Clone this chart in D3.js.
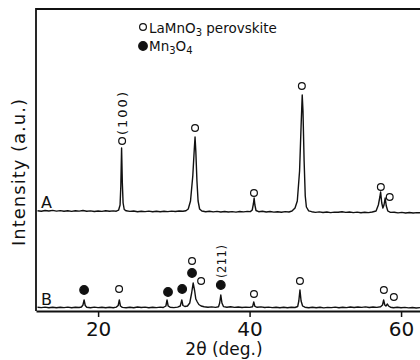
<!DOCTYPE html>
<html>
<head>
<meta charset="utf-8">
<script src="https://cdn.jsdelivr.net/npm/d3@7/dist/d3.min.js"></script>
<style>
  html, body { margin: 0; padding: 0; background: #fff; }
  svg { display: block; }
  text { font-family: "DejaVu Sans", sans-serif; fill: #111; }
</style>
</head>
<body>
<svg id="chart" width="420" height="360"></svg>
<script>
// XRD pattern A (offset trace): 2θ in degrees, intensity in arbitrary units
const twoThetaA = [12.0,12.5,13.0,13.5,14.0,14.5,15.0,15.5,16.0,16.5,17.0,17.5,18.0,18.5,19.0,19.5,20.0,20.5,21.0,21.5,22.0,22.4,22.7,22.9,23.0,23.1,23.2,23.3,23.45,23.7,24.2,24.7,25.2,25.7,26.2,26.7,27.2,27.7,28.2,28.7,29.2,29.7,30.2,30.7,31.2,31.6,31.9,32.2,32.5,32.7,32.8,32.9,33.05,33.2,33.4,33.7,34.2,34.7,35.2,35.7,36.2,36.7,37.2,37.7,38.2,38.7,39.2,39.7,40.1,40.35,40.5,40.6,40.7,40.85,41.2,41.7,42.2,42.7,43.2,43.7,44.2,44.7,45.2,45.6,46.0,46.3,46.6,46.8,46.95,47.05,47.2,47.35,47.5,47.8,48.2,48.7,49.2,49.7,50.2,50.7,51.2,51.7,52.2,52.7,53.2,53.7,54.2,54.7,55.2,55.7,56.2,56.7,57.0,57.2,57.3,57.45,57.6,57.75,57.9,58.05,58.25,58.6,59.1,59.6,60.1,60.6,61.1,61.6,62.1,62.5];
const intensityA = [100.3,99.8,100.5,100.0,100.6,99.9,100.4,99.7,100.2,99.6,100.3,99.9,100.5,99.8,100.1,99.5,100.0,99.6,100.3,99.7,100.1,99.8,100.8,106,125,163,128,108,101.5,100.2,99.6,100.0,99.3,99.8,99.4,99.9,99.2,99.7,99.3,99.8,99.4,99.9,99.5,100.0,99.7,100.3,102,110,135,162,174,160,130,110,102,100,99.3,99.7,99.1,99.6,99.0,99.5,99.0,99.4,98.9,99.5,99.1,99.6,99.4,101,107,113,106,100.5,99.3,99.7,99.0,99.5,98.9,99.3,98.8,99.4,99.0,100,103,110,140,185,216,200,150,115,104,100.2,99.3,98.6,99.1,98.5,99.0,98.4,98.9,98.7,99.3,98.6,99.0,98.4,98.9,98.3,98.8,98.4,99.0,100,106,114,119,108,103,106,113,105,100,98.6,98.8,98.1,98.6,98.0,98.5,98.0,98.4,98.2];

// XRD pattern B (bottom trace)
const twoThetaB = [12.0,12.5,13.0,13.5,14.0,14.5,15.0,15.5,16.0,16.5,17.0,17.5,17.8,18.0,18.15,18.3,18.5,19.0,19.5,20.0,20.5,21.0,21.5,22.0,22.4,22.65,22.8,22.95,23.2,23.7,24.2,24.7,25.2,25.7,26.2,26.7,27.2,27.7,28.2,28.6,28.95,29.1,29.25,29.5,30.0,30.5,30.85,31.05,31.2,31.45,31.8,32.1,32.35,32.55,32.75,32.9,33.1,33.3,33.6,34.0,34.5,35.0,35.5,35.9,36.05,36.2,36.35,36.55,37.0,37.5,38.0,38.5,39.0,39.5,40.0,40.4,40.55,40.7,41.0,41.5,42.0,42.5,43.0,43.5,44.0,44.5,45.0,45.5,46.0,46.35,46.5,46.65,46.8,47.0,47.3,47.8,48.3,48.8,49.3,49.8,50.3,50.8,51.3,51.8,52.3,52.8,53.3,53.8,54.3,54.8,55.3,55.8,56.3,56.8,57.3,57.55,57.7,57.85,58.0,58.2,58.35,58.6,59.0,59.5,60.0,60.5,61.0,61.5,62.0,62.5];
const intensityB = [3.8,3.4,3.9,3.3,3.7,3.2,3.8,3.4,3.9,3.3,3.7,3.5,4.0,6,11,5.5,3.8,3.3,3.9,3.4,3.8,3.2,3.7,3.3,3.9,5.5,11,5,3.6,3.2,3.8,3.3,4.0,3.5,3.9,3.3,3.8,3.4,3.9,3.5,5,11,5,3.8,3.4,3.9,5,11,5.5,4.5,5,8,18,28,20,12,9,6.5,5,4.3,3.7,4.1,3.6,4.2,8,16,8,4.4,3.8,4.2,3.6,4.0,3.5,3.9,3.6,4.3,9,4.6,3.7,4.1,3.5,3.9,3.4,3.8,3.3,3.7,3.2,3.7,3.5,4.5,10,21,10,5,3.8,3.3,3.8,3.2,3.7,3.1,3.6,3.4,3.9,3.2,3.8,3.4,4.0,3.5,4.0,3.6,4.1,3.5,4.0,3.6,4.2,6,11,6,5,7,5,3.8,3.2,3.7,3.2,3.6,3.1,3.5,3.0,3.4];

// Phase markers: position (2θ), height level and phase ("P" perovskite, "M" Mn3O4)
const markTheta = [23.17,32.8,40.58,46.9,57.33,58.5, 18.15,22.77,29.23,31.1,32.4,32.4,33.6,36.2,40.58,46.65,57.73,59.05];
const markLevel = [170,183,118,225,124,114, 21,22,19,22,38,50,30,26,17,30,21,14];
const markPhase = ["P","P","P","P","P","P", "M","P","M","M","M","P","P","M","P","P","P","P"];

// Miller index annotations
const hklText  = ["(100)", "(211)"];
const hklTheta = [23.17, 36.2];
const hklLevel = [176, 33];

const xTickValues = [20, 40, 60];
const traceNames = ["A", "B"];
const traceNameLevel = [103, 6];

const svg = d3.select("#chart");
const x = d3.scaleLinear().domain([11.8, 62.5]).range([36, 420]);
const y = d3.scaleLinear().domain([0, 302]).range([311, 9]);

// Frame: left and top edges
svg.append("path")
  .attr("d", `M${x(11.8)},${y(0)} L${x(11.8)},${y(302)} L${x(62.5)},${y(302)}`)
  .attr("fill", "none").attr("stroke", "#111").attr("stroke-width", 1.8);

// Bottom axis with outward ticks
const xAxis = d3.axisBottom(x).tickValues(xTickValues).tickSize(6).tickSizeOuter(0).tickPadding(5);
const gx = svg.append("g").attr("transform", `translate(0,${y(0)})`).call(xAxis);
gx.select(".domain").attr("stroke", "#111").attr("stroke-width", 1.8);
gx.selectAll(".tick line").attr("stroke", "#111").attr("stroke-width", 1.5);
gx.selectAll(".tick text").attr("font-size", 20).attr("font-family", "DejaVu Sans").attr("fill", "#111");

// Traces
const line = d3.line().x(d => x(d[0])).y(d => y(d[1]));
const dataA = d3.zip(twoThetaA, intensityA);
const dataB = d3.zip(twoThetaB, intensityB);
svg.append("path").datum(dataA).attr("d", line)
  .attr("fill", "none").attr("stroke", "#111").attr("stroke-width", 1.4).attr("stroke-linejoin", "round");
svg.append("path").datum(dataB).attr("d", line)
  .attr("fill", "none").attr("stroke", "#111").attr("stroke-width", 1.4).attr("stroke-linejoin", "round");

// Phase markers
const marks = d3.range(markTheta.length).map(i => ({t: markTheta[i], v: markLevel[i], p: markPhase[i]}));
svg.selectAll("circle.mark").data(marks).join("circle")
  .attr("class", "mark")
  .attr("cx", d => x(d.t)).attr("cy", d => y(d.v))
  .attr("r", d => d.p === "M" ? 4.3 : 3.4)
  .attr("fill", d => d.p === "M" ? "#111" : "#fff")
  .attr("stroke", "#111").attr("stroke-width", 1.2);

// Miller indices, rotated
hklText.forEach((txt, i) => {
  svg.append("text")
    .attr("transform", `translate(${x(hklTheta[i]) + 5},${y(hklLevel[i])}) rotate(-90)`)
    .attr("font-size", i === 0 ? 13 : 11.5)
    .attr("letter-spacing", i === 0 ? 2 : 0.5)
    .text(txt);
});

// Trace names
traceNames.forEach((n, i) => {
  svg.append("text").attr("x", 41).attr("y", y(traceNameLevel[i]))
    .attr("font-size", 16).text(n);
});

// Legend
const leg = svg.append("g");
leg.append("circle").attr("cx", 143).attr("cy", 27).attr("r", 3.4)
  .attr("fill", "#fff").attr("stroke", "#111").attr("stroke-width", 1.2);
const t1 = leg.append("text").attr("x", 149).attr("y", 33).attr("font-size", 13.5);
t1.append("tspan").text("LaMnO");
t1.append("tspan").attr("dy", 3).attr("font-size", 10).text("3");
t1.append("tspan").attr("dy", -3).text(" perovskite");
leg.append("circle").attr("cx", 143).attr("cy", 46).attr("r", 4.3)
  .attr("fill", "#111").attr("stroke", "#111").attr("stroke-width", 1.2);
const t2 = leg.append("text").attr("x", 149).attr("y", 51).attr("font-size", 13.5);
t2.append("tspan").text("Mn");
t2.append("tspan").attr("dy", 3).attr("font-size", 10).text("3");
t2.append("tspan").attr("dy", -3).text("O");
t2.append("tspan").attr("dy", 3).attr("font-size", 10).text("4");

// Axis titles
svg.append("text").attr("x", 224).attr("y", 355).attr("text-anchor", "middle")
  .attr("font-size", 17).text("2θ (deg.)");
svg.append("text").attr("transform", "translate(25,172) rotate(-90)")
  .attr("text-anchor", "middle").attr("font-size", 18).attr("letter-spacing", 1)
  .text("Intensity (a.u.)");
</script>
</body>
</html>
